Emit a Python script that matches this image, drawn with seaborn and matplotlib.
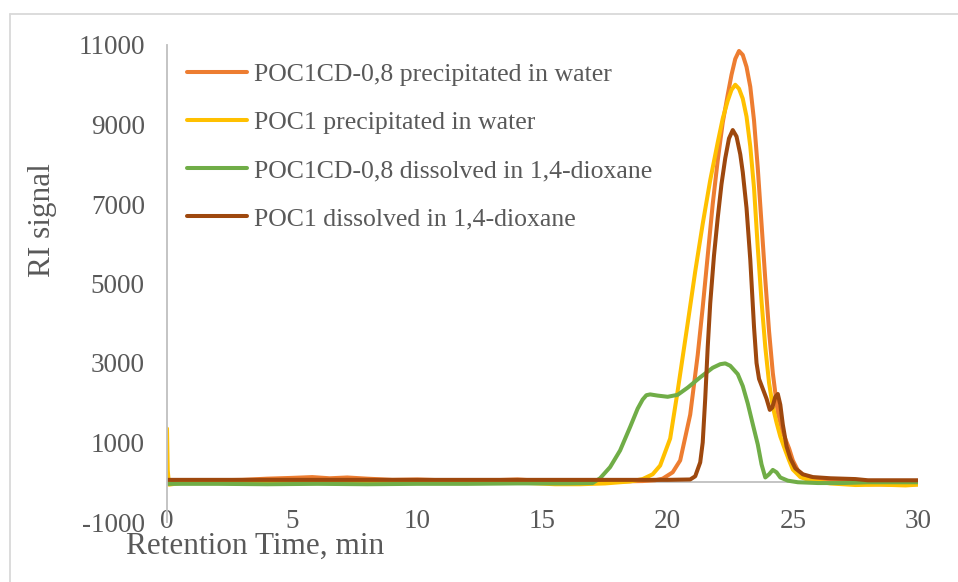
import numpy as np
import pandas as pd
import seaborn as sns
import matplotlib
matplotlib.use("Agg")
import matplotlib.pyplot as plt
from matplotlib.lines import Line2D

# ---------------- data ----------------
series_names = [
    "POC1CD-0,8 precipitated in water",
    "POC1 precipitated in water",
    "POC1CD-0,8 dissolved in 1,4-dioxane",
    "POC1 dissolved in 1,4-dioxane",
]
series_colors = ["#ED7D31", "#FFC000", "#70AD47", "#9E480E"]

t_orange = [0, 1, 2, 3, 4, 5, 5.8, 6.5, 7.2, 8, 9, 10, 11, 12, 13, 14, 14.8, 15.5, 16.2,
            17, 18, 19.0, 19.5, 19.8, 20.2, 20.5, 20.9, 21.2, 21.4, 21.6, 21.8, 22.0,
            22.2, 22.4, 22.55, 22.7, 22.85, 23.0, 23.15, 23.3, 23.45, 23.6, 23.75, 23.9,
            24.05, 24.2, 24.4, 24.6, 24.85, 25.0, 25.2, 25.5, 26.0, 27.0, 28.0, 29.0, 30.0]
v_orange = [40, 40, 50, 60, 90, 110, 130, 100, 120, 90, 60, 70, 50, 40, 50, 70, 40, 20, 0,
            10, 20, 30, 50, 90, 250, 550, 1700, 3200, 4400, 5700, 7000, 8100,
            9050, 9750, 10250, 10650, 10850, 10750, 10450, 9950, 9100, 7900, 6500, 5100,
            3800, 2750, 1750, 1250, 850, 550, 300, 130, 60, 20, -50, -60, -50]

t_yellow = [0, 0.03, 0.08, 1, 3, 5, 7, 9, 11, 13, 14.5, 15.5, 16.5, 17.5, 18.5, 19.0, 19.4,
            19.7, 20.1, 20.4, 20.8, 21.1, 21.4, 21.7, 22.0, 22.2, 22.4, 22.55, 22.7,
            22.85, 23.0, 23.15, 23.3, 23.45, 23.6, 23.75, 23.9, 24.05, 24.2, 24.35, 24.5,
            24.7, 24.85, 25.0, 25.3, 25.7, 26.5, 27.5, 28.5, 29.5, 30.0]
v_yellow = [1350, 300, -60, 20, 30, 20, 30, 20, 10, 0, -20, -50, -50, -30, 20, 80, 200,
            420, 1100, 2300, 4000, 5300, 6500, 7600, 8550, 9150, 9600, 9870, 10000,
            9900, 9650, 9200, 8450, 7400, 5900, 4550, 3400, 2500, 1900, 1500, 1150,
            800, 550, 320, 130, 40, -30, -70, -60, -80, -60]

t_green = [0, 2, 4, 6, 8, 10, 12, 14, 16, 17.0, 17.3, 17.7, 18.1, 18.5, 18.8, 19.0, 19.15,
           19.3, 19.6, 20.0, 20.4, 20.8, 21.3, 21.8, 22.1, 22.3, 22.5, 22.8, 23.0, 23.2,
           23.4, 23.6, 23.75, 23.9, 24.05, 24.2, 24.35, 24.5, 24.8, 25.2, 26.0, 27.0,
           28.0, 29.0, 30.0]
v_green = [-40, -40, -50, -40, -50, -40, -40, -30, -30, -20, 100, 380, 800, 1390, 1850,
           2080, 2190, 2210, 2180, 2150, 2200, 2380, 2640, 2880, 2970, 2990, 2930, 2720,
           2420, 1980, 1460, 950, 450, 120, 200, 310, 250, 120, 40, 0, -20, -20, 0, 0, 0]

t_brown = [0, 5, 10, 15, 20, 20.9, 21.1, 21.3, 21.4, 21.5, 21.6, 21.7, 21.85, 22.0, 22.15,
           22.3, 22.45, 22.6, 22.75, 22.9, 23.0, 23.15, 23.3, 23.45, 23.55, 23.65, 23.8,
           23.95, 24.08, 24.18, 24.3, 24.4, 24.5, 24.6, 24.75, 24.9, 25.1, 25.4, 25.8,
           26.5, 27.5, 28.0, 30.0]
v_brown = [60, 60, 60, 60, 60, 70, 150, 500, 1000, 2100, 3400, 4500, 5700, 6650, 7500,
           8150, 8650, 8860, 8700, 8250, 7800, 6900, 5600, 3900, 3000, 2600, 2350,
           2100, 1820, 1880, 2150, 2220, 1950, 1450, 900, 600, 350, 200, 130,
           100, 80, 50, 50]

x_ticks = [0, 5, 10, 15, 20, 25, 30]
y_ticks = [-1000, 1000, 3000, 5000, 7000, 9000, 11000]

# ---------------- build long table ----------------
frames = []
for name, t, v in zip(series_names,
                      [t_orange, t_yellow, t_green, t_brown],
                      [v_orange, v_yellow, v_green, v_brown]):
    frames.append(pd.DataFrame({"t": t, "v": v, "series": name}))
df = pd.concat(frames, ignore_index=True)

# ---------------- plot ----------------
sns.set_theme(style="white")
plt.rcParams["font.family"] = ["Liberation Serif", "DejaVu Serif"]
text_color = "#595959"
axis_gray = "#BFBFBF"

fig = plt.figure(figsize=(9.58, 5.82), dpi=100)
ax = fig.add_axes([167 / 958, 1 - 522 / 582, (918 - 167) / 958, (522 - 45) / 582])

ax.axhline(0, color=axis_gray, lw=1.3, zorder=1)

sns.lineplot(data=df, x="t", y="v", hue="series", hue_order=series_names,
             palette=dict(zip(series_names, series_colors)), estimator=None,
             sort=False, linewidth=2.9, ax=ax, zorder=2)

ax.set_xlim(0, 30)
ax.set_ylim(-1000, 11000)
ax.set_xticks(x_ticks)
ax.set_yticks(y_ticks)
ax.set_xticklabels([str(x) for x in x_ticks])
ax.set_yticklabels([str(y) for y in y_ticks])

for s in ["top", "right", "bottom"]:
    ax.spines[s].set_visible(False)
ax.spines["left"].set_color(axis_gray)
ax.spines["left"].set_linewidth(1.3)

ax.tick_params(axis="x", length=0, pad=0, labelsize=19.5, labelcolor=text_color)
ax.tick_params(axis="y", length=0, pad=16, labelsize=19.5, labelcolor=text_color)
for lbl in ax.get_xticklabels():
    lbl.set_verticalalignment("center")

ax.set_xlabel("Retention Time, min", fontsize=22.5, color=text_color, va="center")
ax.xaxis.set_label_coords((255 - 167) / 751, (522 - 546) / 477)
ax.set_ylabel("RI signal", fontsize=22.5, color=text_color, va="center")
ax.yaxis.set_label_coords((42 - 167) / 751, (522 - 220) / 477)

handles = [Line2D([0], [0], color=c, lw=2.9, solid_capstyle="round") for c in series_colors]
leg = ax.legend(handles, series_names, loc="upper left",
                bbox_to_anchor=(187 / 958, 1 - 63 / 582), bbox_transform=fig.transFigure,
                frameon=False, fontsize=18.5, handlelength=2.35, handletextpad=0.25,
                labelspacing=0.98, borderpad=0, borderaxespad=0)
for txt in leg.get_texts():
    txt.set_color(text_color)

# outer chart border (top and left edges visible)
fig.add_artist(Line2D([10 / 958, 10 / 958], [0, 1 - 13.5 / 582], color="#D9D9D9",
                      lw=1.3, transform=fig.transFigure))
fig.add_artist(Line2D([10 / 958, 1], [1 - 13.5 / 582, 1 - 13.5 / 582], color="#D9D9D9",
                      lw=1.3, transform=fig.transFigure))

fig.savefig("out.png", dpi=100)
